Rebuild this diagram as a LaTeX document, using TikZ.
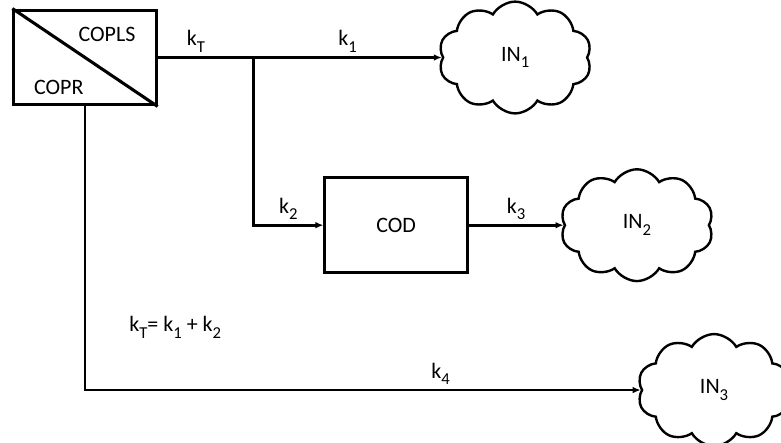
\documentclass[tikz,border=0pt]{standalone}
\usepackage{fontspec}
\setmainfont{Carlito}
\usepackage{tikz}
\usetikzlibrary{calc, positioning, arrows.meta, shapes.symbols}
\newcommand{\sbs}[1]{\raisebox{-5pt}{\fontsize{12.5}{12.5}\selectfont #1}}

\begin{document}
\begin{tikzpicture}[
  node distance=1cm and 2.5cm,
  font=\fontsize{16.5}{20}\selectfont,
  %% Cajas rectangulares y nubes de destino
  cbox/.style={rectangle, draw, line width=2.3pt, fill=white,
               minimum width=3.75cm, minimum height=2.5cm, inner sep=0pt},
  nube/.style={cloud, cloud puffs=10, cloud puff arc=120, cloud ignores aspect,
               draw, line width=1.8pt, fill=white,
               inner xsep=0.97cm, inner ysep=0.57cm},
  arr/.style={-{Latex[length=6pt, width=5pt]}, line width=2pt},
  lnk/.style={line width=2pt},
  lbl/.style={inner sep=3pt}
]

\useasboundingbox (0,0) rectangle (20.59,-11.654);

%% ── Origen ───────────────────────────────────────────────────────────────
\node[cbox] (copl) at (2.241,-1.516) {};
\draw[line width=2.3pt] (copl.north west) -- (copl.south east);
\node (cpls) at ($(copl.center)+(0.58,0.62)$) {COPLS};
\node (cpr)  at ($(copl.center)+(-0.69,-0.79)$) {COPR};

\coordinate[right=2.52cm of copl] (split);

%% ── Destinos ─────────────────────────────────────────────────────────────
\node[cbox, below right=1.84cm and 4.37cm of copl] (cod) {COD};

\node[nube, right=7.49cm of copl] (in1) {IN\sbs{1}};
\node[nube, right=2.5cm of cod]   (in2) {IN\sbs{2}};
\node[nube] (in3) at (18.825,-10.283) {IN\sbs{3}};

\node (eqn) at (4.62,-8.622) {k\sbs{T}= k\sbs{1} + k\sbs{2}};

%% ── Flechas ──────────────────────────────────────────────────────────────
\draw[lnk] (copl.east) -- node[lbl,above,pos=0.4]{k\sbs{T}} (split);
\draw[arr] (split)     -- node[lbl,above]{k\sbs{1}} (in1.west);
\draw[arr] (split)     |- node[lbl,above,pos=0.75]{k\sbs{2}} (cod.west);
\draw[arr] (cod.east)  -- node[lbl,above]{k\sbs{3}} (in2.west);
\draw[arr] (copl.south) |- node[lbl,above,pos=0.82]{k\sbs{4}} (in3.west);

\end{tikzpicture}
\end{document}
